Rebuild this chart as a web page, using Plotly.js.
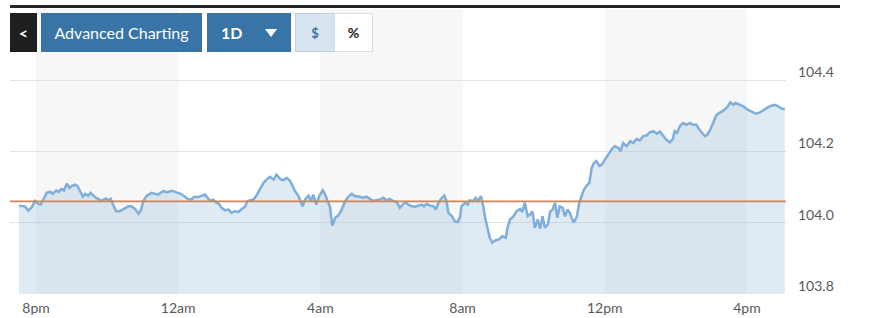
<!DOCTYPE html>
<html>
<head>
<meta charset="utf-8">
<script src="https://cdn.plot.ly/plotly-3.0.1.min.js"></script>
<style>
  html, body { margin: 0; padding: 0; background: #ffffff; overflow: hidden; }
  #wrap { position: relative; width: 870px; height: 318px; font-family: Lato, "Open Sans", sans-serif; }
  #chart { position: absolute; left: 0; top: 0; width: 870px; height: 318px; }
  .topbar { position: absolute; left: 10px; top: 5px; width: 830px; height: 3px; background: #262626; }
  .btn { position: absolute; top: 13px; height: 39px; display: flex; align-items: center; justify-content: center; box-sizing: border-box; color: #fff; }
  .back { left: 10px; width: 27px; background: #1f1f1f; font-size: 16px; font-weight: 700; }
  .adv { left: 41px; width: 161px; background: #3874a6; font-size: 16px; }
  .range { left: 207px; width: 84px; background: #3874a6; font-size: 16px; font-weight: 700; justify-content: flex-start; padding-left: 14px; }
  .tri { position: absolute; left: 58px; top: 16px; width: 0; height: 0; border-left: 6.5px solid transparent; border-right: 6.5px solid transparent; border-top: 8px solid #ffffff; }
  .usd { left: 295px; width: 40px; background: #d7e4ef; border: 1px solid #bfd2e3; color: #3874a6; font-size: 13px; font-weight: 700; }
  .pct { left: 334px; width: 39px; background: #ffffff; border: 1px solid #d3dfea; color: #222; font-size: 14px; font-weight: 700; }
</style>
</head>
<body>
<div id="wrap">
  <div id="chart"></div>
  <div class="topbar"></div>
  <div class="btn back">&lt;</div>
  <div class="btn adv">Advanced Charting</div>
  <div class="btn range">1D<span class="tri"></span></div>
  <div class="btn usd">$</div>
  <div class="btn pct">%</div>
</div>
<script>
// ---- data ----
const times = [
 "19:31","19:41","19:47","19:53","19:58","20:04","20:08","20:12","20:18","20:24",
 "20:28","20:34","20:38","20:43","20:47","20:52","20:56","21:00","21:06","21:10",
 "21:15","21:19","21:23","21:28","21:32","21:37","21:41","21:45","21:49","21:54",
 "21:58","22:02","22:06","22:10","22:15","22:21","22:26","22:30","22:36","22:41",
 "22:47","22:53","22:57","23:01","23:07","23:15","23:21","23:26","23:35","23:41",
 "23:49","23:56","00:03","00:10","00:16","00:22","00:27","00:34","00:40","00:45",
 "00:51","00:55","00:59","01:03","01:09","01:13","01:19","01:25","01:30","01:36",
 "01:41","01:47","01:53","01:57","02:03","02:07","02:12","02:18","02:24","02:29",
 "02:35","02:41","02:46","02:52","02:57","03:03","03:09","03:13","03:17","03:23",
 "03:27","03:30","03:34","03:40","03:44","03:48","03:53","03:58","04:04","04:08",
 "04:12","04:16","04:20","04:25","04:30","04:36","04:42","04:47","04:53","04:58",
 "05:06","05:12","05:18","05:24","05:29","05:35","05:41","05:46","05:52","05:57",
 "06:03","06:09","06:14","06:19","06:24","06:28","06:34","06:40","06:45","06:51",
 "06:55","06:59","07:05","07:11","07:15","07:19","07:25","07:29","07:33","07:36",
 "07:42","07:47","07:52","07:56","07:58","08:04","08:09","08:12","08:18","08:22",
 "08:26","08:31","08:35","08:38","08:42","08:46","08:50","08:56","09:01","09:07",
 "09:13","09:16","09:20","09:26","09:31","09:37","09:41","09:45","09:50","09:54",
 "09:58","10:02","10:07","10:11","10:15","10:19","10:24","10:28","10:32","10:36",
 "10:40","10:44","10:49","10:53","10:57","11:01","11:04","11:08","11:13","11:17",
 "11:21","11:25","11:29","11:34","11:38","11:42","11:46","11:51","11:55","12:00",
 "12:06","12:12","12:17","12:23","12:27","12:31","12:37","12:43","12:48","12:54",
 "12:59","13:05","13:11","13:16","13:22","13:28","13:33","13:39","13:44","13:50",
 "13:55","13:58","14:02","14:07","14:12","14:18","14:24","14:29","14:35","14:39",
 "14:45","14:49","14:53","14:58","15:03","15:08","15:13","15:19","15:25","15:28",
 "15:32","15:37","15:41","15:47","15:54","16:00","16:08","16:15","16:22","16:27",
 "16:33","16:39","16:47","16:53","16:59","17:04"
];
const prices = [
 104.048,104.046,104.034,104.044,104.061,104.053,104.051,104.065,104.084,104.087,
 104.081,104.091,104.086,104.095,104.091,104.110,104.098,104.103,104.107,104.103,
 104.084,104.073,104.081,104.076,104.084,104.076,104.070,104.067,104.061,104.065,
 104.068,104.063,104.067,104.051,104.032,104.032,104.037,104.039,104.046,104.046,
 104.039,104.025,104.035,104.061,104.076,104.084,104.081,104.079,104.089,104.086,
 104.090,104.086,104.082,104.075,104.067,104.065,104.073,104.072,104.075,104.079,
 104.067,104.061,104.065,104.058,104.053,104.042,104.035,104.037,104.028,104.032,
 104.030,104.039,104.046,104.061,104.063,104.065,104.076,104.093,104.112,104.121,
 104.129,104.121,104.135,104.123,104.119,104.126,104.117,104.104,104.089,104.075,
 104.061,104.046,104.065,104.076,104.061,104.079,104.051,104.075,104.091,104.079,
 104.061,104.046,103.992,104.014,104.020,104.037,104.061,104.073,104.081,104.075,
 104.073,104.070,104.073,104.065,104.061,104.063,104.065,104.070,104.063,104.067,
 104.061,104.058,104.042,104.051,104.058,104.051,104.046,104.045,104.048,104.051,
 104.046,104.053,104.048,104.046,104.037,104.056,104.070,104.076,104.061,104.028,
 104.018,104.004,104.002,104.018,104.046,104.056,104.051,104.063,104.061,104.070,
 104.061,104.075,104.046,104.014,103.986,103.958,103.944,103.951,103.953,103.962,
 103.958,103.986,104.009,104.018,104.032,104.039,104.030,104.056,104.018,104.023,
 104.032,103.986,104.009,103.983,104.018,103.986,103.995,104.032,104.037,104.056,
 104.014,104.046,104.042,104.018,104.037,104.028,104.014,104.000,104.018,104.056,
 104.075,104.093,104.103,104.112,104.154,104.168,104.173,104.159,104.163,104.177,
 104.194,104.207,104.215,104.210,104.201,104.224,104.215,104.229,104.224,104.235,
 104.231,104.243,104.245,104.254,104.257,104.250,104.256,104.243,104.233,104.226,
 104.235,104.257,104.252,104.271,104.280,104.275,104.280,104.275,104.275,104.263,
 104.252,104.243,104.247,104.261,104.280,104.301,104.308,104.313,104.322,104.327,
 104.338,104.331,104.336,104.331,104.327,104.319,104.313,104.306,104.310,104.315,
 104.322,104.327,104.331,104.327,104.320,104.319
];
const prevClose = 104.06;
const tickTimes = ["20:00","00:00","04:00","08:00","12:00","16:00"];
const tickLabels = ["8pm","12am","4am","8am","12pm","4pm"];
const yTicks = [103.8, 104.0, 104.2, 104.4];
const yTickLabels = ["103.8","104.0","104.2","104.4"];
const viewStart = "19:16";
const viewEnd = "17:06";
const yRange = [103.8, 104.6];

// session spans the evening of day 1 and the following day
function toDate(hm) {
  const h = parseInt(hm.split(":")[0], 10);
  return (h >= 19 ? "2024-03-04 " : "2024-03-05 ") + hm;
}

const xs = times.map(toDate);
const tickX = tickTimes.map(toDate);

// alternating shaded 4-hour bands: 8pm-12am, 4am-8am, 12pm-4pm
const shapes = [];
for (let i = 0; i + 1 < tickX.length; i += 2) {
  shapes.push({
    type: "rect", xref: "x", yref: "paper",
    x0: tickX[i], x1: tickX[i + 1], y0: 0, y1: 1,
    fillcolor: "#f7f7f7", line: { width: 0 }, layer: "below"
  });
}
shapes.push({
  type: "line", xref: "paper", yref: "y",
  x0: 0, x1: 1, y0: prevClose, y1: prevClose,
  line: { color: "#cf8557", width: 1.6 }, layer: "above"
});

const trace = {
  type: "scatter", mode: "lines",
  x: xs, y: prices,
  fill: "tozeroy",
  fillcolor: "rgba(131,171,203,0.25)",
  line: { color: "#7eaedb", width: 2.5 },
  hoverinfo: "skip"
};

const layout = {
  width: 870, height: 318,
  margin: { l: 10, r: 84, t: 9, b: 24 },
  paper_bgcolor: "rgba(0,0,0,0)",
  plot_bgcolor: "#ffffff",
  showlegend: false,
  font: { family: "Lato, 'Open Sans', sans-serif", color: "#5a5a5a", size: 14 },
  xaxis: {
    type: "date",
    range: [toDate(viewStart), toDate(viewEnd)],
    tickmode: "array", tickvals: tickX, ticktext: tickLabels,
    showgrid: false, zeroline: false, showline: false,
    ticks: "", ticklen: 0, ticklabelstandoff: 4,
    tickfont: { size: 14, color: "#5a5a5a" },
    fixedrange: true
  },
  yaxis: {
    side: "right",
    range: yRange,
    tickmode: "array", tickvals: yTicks, ticktext: yTickLabels,
    showgrid: true, gridcolor: "#e3e3e3", gridwidth: 1,
    zeroline: false, showline: false,
    ticks: "", ticklabelshift: -8, ticklabelstandoff: 11,
    tickfont: { size: 14, color: "#5a5a5a" },
    fixedrange: true
  },
  shapes: shapes
};

Plotly.newPlot("chart", [trace], layout, { displayModeBar: false, staticPlot: true });
</script>
</body>
</html>
